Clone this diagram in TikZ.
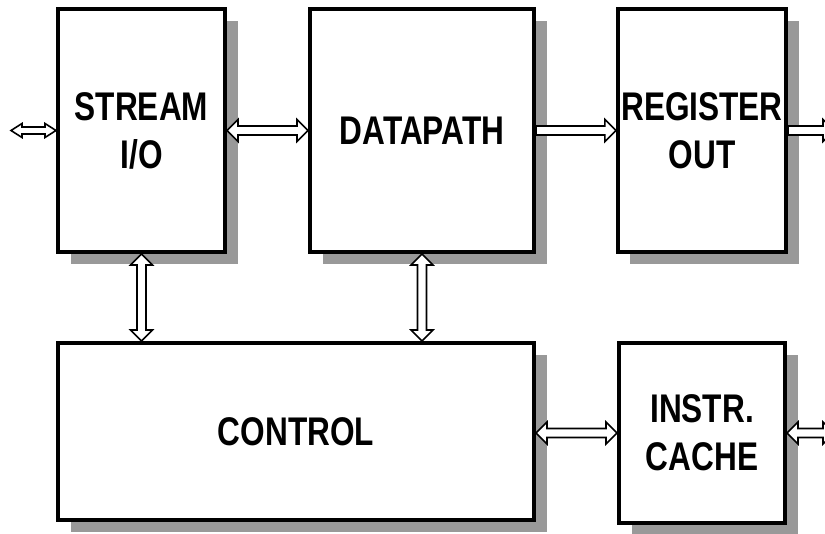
\documentclass[tikz,border=0pt]{standalone}
\usepackage{fontspec}
\setmainfont{Liberation Sans}
\newfontfamily\boxfont[FakeStretch=0.79]{Liberation Sans}
\usetikzlibrary{calc,shadows}
\definecolor{shgray}{RGB}{153,153,153}
\tikzset{
  blockbox/.style={draw, line width=4pt, fill=white, align=center,
    font=\boxfont\bfseries\fontsize{40}{48}\selectfont,
    general shadow={fill=shgray, shadow xshift=12.5pt, shadow yshift=-12pt}},
  hdbl/.style n args={3}{draw, fill=white, line width=1.6pt, to path={
    (\tikztostart) -- ($(\tikztostart)+(#3,#1)$) -- ($(\tikztostart)+(#3,#2)$)
    -- ($(\tikztotarget)+(-#3,#2)$) -- ($(\tikztotarget)+(-#3,#1)$) -- (\tikztotarget)
    -- ($(\tikztotarget)+(-#3,-#1)$) -- ($(\tikztotarget)+(-#3,-#2)$)
    -- ($(\tikztostart)+(#3,-#2)$) -- ($(\tikztostart)+(#3,-#1)$) -- cycle}},
  hsgl/.style n args={3}{draw, fill=white, line width=1.6pt, to path={
    ($(\tikztostart)+(0,#2)$)
    -- ($(\tikztotarget)+(-#3,#2)$) -- ($(\tikztotarget)+(-#3,#1)$) -- (\tikztotarget)
    -- ($(\tikztotarget)+(-#3,-#1)$) -- ($(\tikztotarget)+(-#3,-#2)$)
    -- ($(\tikztostart)+(0,-#2)$) -- cycle}},
  vdbl/.style n args={3}{draw, fill=white, line width=1.6pt, to path={
    (\tikztostart) -- ($(\tikztostart)+(#1,#3)$) -- ($(\tikztostart)+(#2,#3)$)
    -- ($(\tikztotarget)+(#2,-#3)$) -- ($(\tikztotarget)+(#1,-#3)$) -- (\tikztotarget)
    -- ($(\tikztotarget)+(-#1,-#3)$) -- ($(\tikztotarget)+(-#2,-#3)$)
    -- ($(\tikztostart)+(-#2,#3)$) -- ($(\tikztostart)+(-#1,#3)$) -- cycle}}
}
\begin{document}
\begin{tikzpicture}[x=1pt,y=-1pt]
\useasboundingbox (0,0) rectangle (825,534);
\clip (0,0) rectangle (825,534);
\node[blockbox, minimum width=167pt, minimum height=243pt] (stream) at (141.5,130.5) {STREAM\\I/O};
\node[blockbox, minimum width=224pt, minimum height=243pt] (data) at (422,130.5) {DATAPATH};
\node[blockbox, minimum width=166pt, minimum height=243pt] (reg) at (702,130.5) {REGISTER\\OUT};
\node[blockbox, minimum width=476pt, minimum height=177pt] (ctrl) at (296,431.5) {CONTROL};
\node[blockbox, minimum width=166pt, minimum height=180pt] (instr) at (702,433) {INSTR.\\CACHE};
\coordinate (lend) at (11,130.5);
\coordinate (rend) at (834,130.5);
\coordinate (iend) at (834,433);
\draw[hdbl={7}{3.5}{11}] (lend) to (stream.west);
\draw[hdbl={11}{4.5}{11}] (stream.east) to (data.west);
\draw[hsgl={11}{4.5}{11}] (data.east) to (reg.west);
\draw[hsgl={11}{4.5}{11}] (reg.east) to (rend);
\draw[hdbl={11}{4.5}{11}] (ctrl.east |- instr.west) to (instr.west);
\draw[hdbl={11}{4.5}{11}] (instr.east) to (iend);
\draw[vdbl={11}{4.5}{11}] (stream.south) to (stream.south |- ctrl.north);
\draw[vdbl={11}{4.5}{11}] (data.south) to (data.south |- ctrl.north);
\end{tikzpicture}
\end{document}
